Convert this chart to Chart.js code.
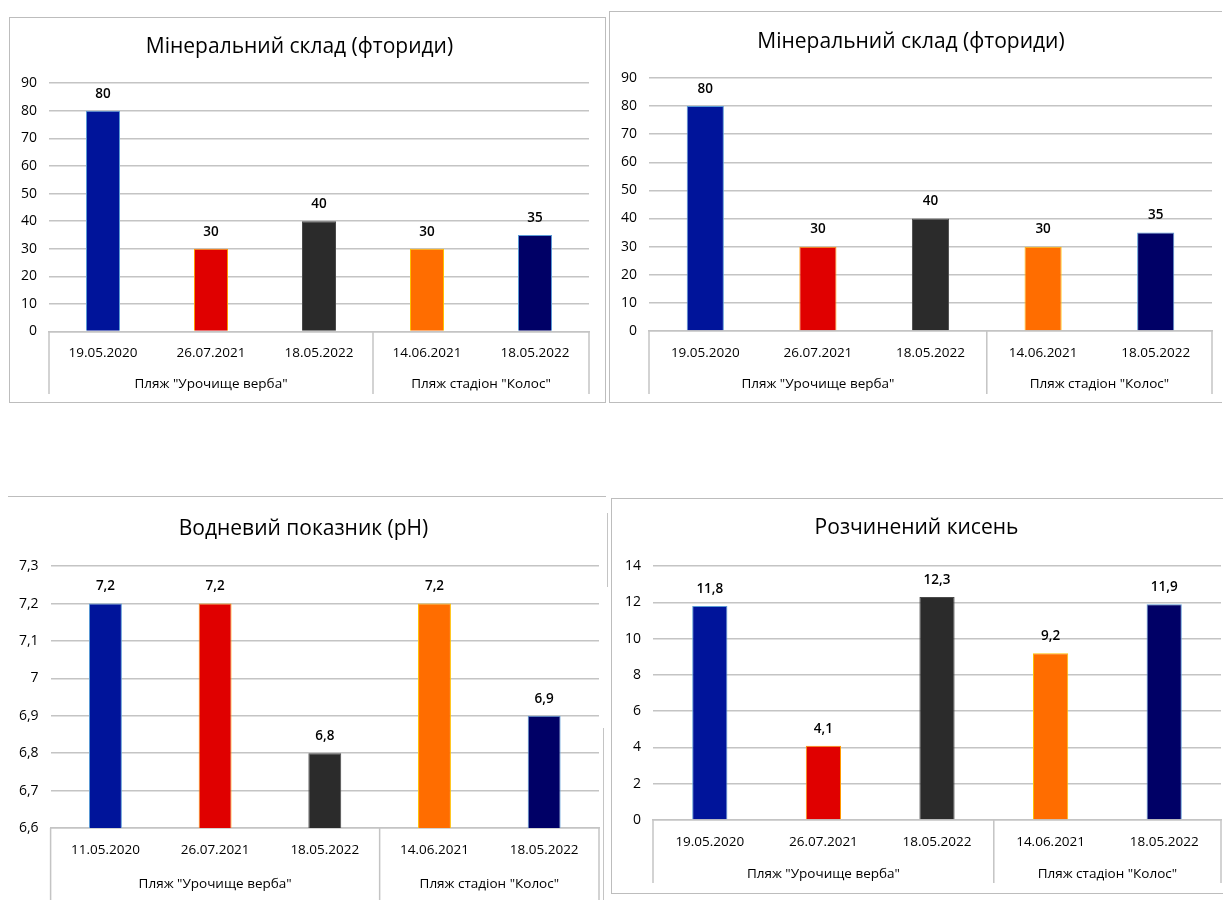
<!DOCTYPE html>
<html lang="uk">
<head>
<meta charset="UTF-8">
<title>Якість води на пляжах</title>
<script src="https://cdn.jsdelivr.net/npm/chart.js@4.4.1/dist/chart.umd.min.js"></script>
<style>
  * { margin: 0; padding: 0; }
  body { width: 1223px; height: 900px; position: relative; overflow: hidden; background: #fff; }
  .box { position: absolute; box-sizing: border-box; border: 1px solid #bdbdbd; background: #fff; }
  .box canvas { display: block; }
  .scrap { position: absolute; background: #c4c4c4; }
</style>
</head>
<body>

<div class="box" style="left:9px;top:17px;width:597px;height:386px;"><canvas id="fluorideA"></canvas></div>
<div class="box" style="left:609px;top:11px;width:613px;height:392px;border-right-width:0;"><canvas id="fluorideB"></canvas></div>
<div class="box" style="left:8px;top:496px;width:598px;height:404px;border-width:1px 0 0 0;"><canvas id="phChart"></canvas></div>
<div class="box" style="left:611px;top:498px;width:612px;height:396px;border-right-width:0;"><canvas id="oxygenChart"></canvas></div>

<!-- leftovers of the charts underneath -->
<div class="scrap" style="left:607px;top:513px;width:1px;height:74px;"></div>
<div class="scrap" style="left:603px;top:728px;width:1px;height:172px;"></div>

<script>
// categories
const DATES = ['19.05.2020', '26.07.2021', '18.05.2022', '14.06.2021', '18.05.2022'];
const DATES_PH = ['11.05.2020', '26.07.2021', '18.05.2022', '14.06.2021', '18.05.2022'];
const BEACHES = ['Пляж "Урочище верба"', 'Пляж стадіон "Колос"'];
const BEACH_SIZES = [3, 2];

// series
const FLUORIDE = [80, 30, 40, 30, 35];
const PH = [7.2, 7.2, 6.8, 7.2, 6.9];
const OXYGEN = [11.8, 4.1, 12.3, 9.2, 11.9];

// y axis ranges
const FLUORIDE_AXIS = { min: 0, max: 90, step: 10 };
const PH_AXIS = { min: 6.6, max: 7.3, step: 0.1 };
const OXYGEN_AXIS = { min: 0, max: 14, step: 2 };

const BAR_COLORS = ['#00149A', '#E00000', '#2B2B2B', '#FF6D00', '#000066'];
const BAR_EDGES = ['#5B9BD5', '#FF9A00', '#4A4A4A', '#FFC000', '#5B9BD5'];

const TEXT = '#000';
const GRID = '#c4c4c4';
const FONT = "'Open Sans', 'Noto Sans', sans-serif";
Chart.defaults.font.family = FONT;
Chart.defaults.color = TEXT;

const fmt = v => String(Math.round(v * 10) / 10).replace('.', ',');

// value above each bar
const valueLabels = {
  id: 'valueLabels',
  afterDatasetsDraw(chart) {
    const ctx = chart.ctx;
    const values = chart.data.datasets[0].data;
    ctx.save();
    ctx.font = '600 13.5px ' + FONT;
    ctx.fillStyle = TEXT;
    ctx.textAlign = 'center';
    ctx.textBaseline = 'middle';
    chart.getDatasetMeta(0).data.forEach((bar, i) => {
      ctx.fillText(fmt(values[i]), bar.x, bar.y - 17);
    });
    ctx.restore();
  }
};

// second row of the category axis: beach names and the boxes round them
const groupAxis = {
  id: 'groupAxis',
  afterDraw(chart, args, opts) {
    const x = chart.scales.x, ctx = chart.ctx;
    const half = (x.getPixelForValue(1) - x.getPixelForValue(0)) / 2;
    const bottom = chart.height - opts.lineGap;
    const edges = [x.getPixelForValue(0) - half];
    let start = 0;
    ctx.save();
    ctx.font = '13.5px ' + FONT;
    ctx.fillStyle = TEXT;
    ctx.textAlign = 'center';
    ctx.textBaseline = 'middle';
    BEACH_SIZES.forEach((n, g) => {
      const l = x.getPixelForValue(start) - half;
      const r = x.getPixelForValue(start + n - 1) + half;
      ctx.fillText(BEACHES[g], (l + r) / 2, x.top + opts.labelOffset);
      edges.push(r);
      start += n;
    });
    ctx.strokeStyle = GRID;
    ctx.lineWidth = 1.5;
    edges.forEach(px => {
      ctx.beginPath();
      ctx.moveTo(px, x.top);
      ctx.lineTo(px, bottom);
      ctx.stroke();
    });
    ctx.restore();
  }
};

function barChart(id, c) {
  return new Chart(document.getElementById(id), {
    type: 'bar',
    data: {
      labels: c.labels,
      datasets: [{
        data: c.values,
        backgroundColor: BAR_COLORS,
        borderColor: BAR_EDGES,
        borderWidth: 1,
        borderSkipped: 'bottom',
        categoryPercentage: 1,
        barPercentage: c.barPct
      }]
    },
    options: {
      responsive: true, maintainAspectRatio: false, animation: false,
      layout: { padding: { left: 0, right: c.padRight, top: 0, bottom: 0 } },
      plugins: {
        legend: { display: false },
        tooltip: { enabled: false },
        title: {
          display: true, text: c.title, color: TEXT,
          font: { size: 21, weight: 'normal' },
          padding: { top: c.titleTop, bottom: c.titleBottom }
        },
        groupAxis: { labelOffset: c.groupOffset, lineGap: c.lineGap }
      },
      scales: {
        x: {
          grid: { display: false, drawTicks: false },
          border: { display: true, color: GRID, width: 1.5 },
          ticks: { color: TEXT, font: { size: 13.5 }, padding: 14, maxRotation: 0, autoSkip: false },
          afterFit: s => { s.height = c.xHeight; }
        },
        y: {
          min: c.axis.min, max: c.axis.max,
          grid: { color: GRID, lineWidth: 1.5, drawTicks: false },
          border: { display: false },
          ticks: { stepSize: c.axis.step, color: TEXT, font: { size: 14 }, padding: 12, callback: v => fmt(v) },
          afterFit: s => { s.width = c.yWidth; }
        }
      }
    },
    plugins: [valueLabels, groupAxis]
  });
}

barChart('fluorideA', {
  title: 'Мінеральний склад (фториди)', labels: DATES, values: FLUORIDE, axis: FLUORIDE_AXIS,
  barPct: 0.315, padRight: 16, yWidth: 39, xHeight: 70.5, titleTop: 16.5, titleBottom: 23.5,
  groupOffset: 52.5, lineGap: 8
});

barChart('fluorideB', {
  title: 'Мінеральний склад (фториди)', labels: DATES, values: FLUORIDE, axis: FLUORIDE_AXIS,
  barPct: 0.33, padRight: 10, yWidth: 39, xHeight: 71, titleTop: 17.5, titleBottom: 23.2,
  groupOffset: 53, lineGap: 8
});

barChart('phChart', {
  title: 'Водневий показник (pH)', labels: DATES_PH, values: PH, axis: PH_AXIS,
  barPct: 0.30, padRight: 7, yWidth: 42.6, xHeight: 72, titleTop: 19.5, titleBottom: 24.5,
  groupOffset: 56, lineGap: 0
});

barChart('oxygenChart', {
  title: 'Розчинений кисень', labels: DATES, values: OXYGEN, axis: OXYGEN_AXIS,
  barPct: 0.31, padRight: 2, yWidth: 41, xHeight: 73, titleTop: 16.5, titleBottom: 25.5,
  groupOffset: 54, lineGap: 10
});
</script>
</body>
</html>
